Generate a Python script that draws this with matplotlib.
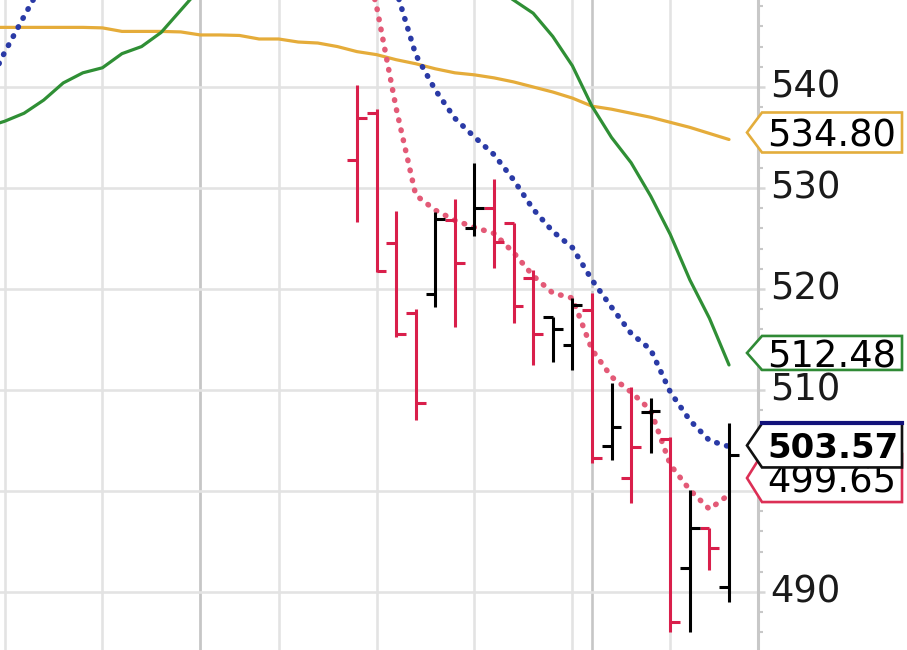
import numpy as np
import matplotlib
matplotlib.use("Agg")
import matplotlib.pyplot as plt
import matplotlib.transforms as mtransforms
from matplotlib.patches import Polygon
from matplotlib.lines import Line2D
from matplotlib.ticker import MultipleLocator, FixedLocator

# ---------------- data ----------------
bar_days = list(range(20))
opens = [532.8, 537.4, 524.6, 517.6, 519.5, 526.8, 526.0, 528.0, 526.5, 521.1,
         517.2, 514.5, 517.9, 504.5, 501.3, 507.8, 505.1, 492.4, 496.3, 490.5]
highs = [540.2, 537.8, 527.7, 518.0, 527.6, 528.9, 532.5, 530.9, 526.5, 521.9,
         517.2, 519.1, 519.6, 510.7, 510.3, 509.2, 505.3, 500.1, 496.3, 506.7]
lows = [526.6, 521.7, 515.2, 507.0, 518.2, 516.2, 525.2, 522.1, 516.6, 512.5,
        512.8, 512.0, 502.8, 503.1, 498.8, 503.8, 486.0, 486.0, 492.2, 489.0]
closes = [536.9, 521.8, 515.5, 508.7, 526.9, 522.6, 528.0, 524.7, 518.3, 515.5,
          516.0, 518.4, 503.3, 506.3, 504.4, 507.9, 487.0, 496.3, 494.4, 503.57]
prev_close = 538.0

ma_days = list(range(-19, 20))
sma_long = [545.9, 545.9, 545.9, 545.9, 545.9, 545.9, 545.85, 545.5, 545.5, 545.5,
            545.45, 545.15, 545.15, 545.1, 544.75, 544.75, 544.45, 544.35, 544.0, 543.5,
            543.2, 542.7, 542.3, 541.8, 541.4, 541.2, 540.9, 540.5, 540.0, 539.5,
            538.9, 538.1, 537.8, 537.4, 537.0, 536.5, 536.0, 535.4, 534.80]
sma_mid = [536.0, 536.6, 537.4, 538.7, 540.4, 541.4, 541.9, 543.3, 544.0, 545.4,
           547.6, 549.8, 551.5, 553.0, 554.3, 555.2, 555.8, 556.0, 556.0, 555.7,
           555.2, 554.5, 553.7, 552.9, 552.0, 551.0, 549.9, 548.6, 547.3, 545.0,
           542.1, 538.1, 535.0, 532.5, 529.2, 525.4, 520.9, 517.1, 512.48]
ema_slow = [539.5, 543.4, 547.0, 550.5, 553.5, 556.0, 558.0, 559.5, 560.5, 561.2,
            561.6, 561.8, 561.8, 561.5, 561.0, 560.2, 559.0, 557.6, 556.0, 554.2,
            552.0, 549.6, 543.2, 539.7, 536.9, 535.05, 533.3, 530.8, 527.9, 525.7,
            524.1, 520.9, 518.2, 515.6, 514.0, 509.8, 507.0, 505.0, 504.4]
ema_fast = [549.0, 549.5, 551.0, 553.0, 555.0, 557.0, 559.0, 560.5, 561.5, 562.0,
            562.5, 563.0, 563.0, 562.5, 562.0, 561.0, 560.0, 558.5, 557.0, 555.5,
            548.0, 537.9, 529.3, 527.8, 526.8, 526.1, 525.5, 523.6, 521.3, 519.6,
            519.1, 514.0, 511.3, 509.8, 508.0, 502.6, 500.1, 498.2, 499.65]

week_lines = [-18, -13, -8, -4, 1, 6, 11, 16]
month_lines = [-8, 12]
price_ticks = [490, 500, 510, 520, 530, 540, 550]

label_values = [534.80, 512.48, 499.65, 503.57]
label_texts = ["534.80", "512.48", "499.65", "503.57"]

# ---------------- styles ----------------
label_edges = ["#e3ad3c", "#2f8a35", "#dc2f55", "#111111"]
label_bold = [False, False, False, True]
label_dy = [7, 12, 16.5, 9.5]          # px upward shift of each tag
label_half_h = [20, 17, 24, 22]
RED = "#d91f4b"
FONT = "DejaVu Sans"

fig = plt.figure(figsize=(9.07, 6.5), dpi=100)
ax = fig.add_axes([0, 0, 758 / 907, 1])

for d in week_lines:
    ax.axvline(d, color="#e3e3e3", lw=1.9, zorder=0)
for d in month_lines:
    ax.axvline(d, color="#c6c6c6", lw=1.9, zorder=0)
for v in price_ticks:
    ax.axhline(v, color="#e3e3e3", lw=1.9, zorder=0)

for s in ["left", "top", "bottom"]:
    ax.spines[s].set_visible(False)
ax.spines["right"].set_color("#c8c8c8")
ax.spines["right"].set_linewidth(2.2)
ax.xaxis.set_major_locator(FixedLocator([]))
ax.yaxis.tick_right()
ax.yaxis.set_major_locator(FixedLocator(price_ticks))
ax.yaxis.set_minor_locator(MultipleLocator(2))
ax.tick_params(axis="y", which="major", length=5, width=1.8, color="#d6d6d6",
               labelright=False, labelleft=False)
ax.tick_params(axis="y", which="minor", length=3.6, width=1.5, color="#c8c8c8")

# tick labels (drawn manually so they sit slightly above their lines)
lab_tr = ax.get_yaxis_transform() + mtransforms.ScaledTranslation(12 / 100, 4 / 100, fig.dpi_scale_trans)
for v in price_ticks:
    ax.text(1, v, str(v), transform=lab_tr, ha="left", va="center_baseline",
            fontsize=26.6, family=FONT, color="#1a1a1a", clip_on=False, zorder=4)

# moving averages
ax.plot(ma_days, sma_long, color="#e5ac3a", lw=2.3, zorder=2, solid_capstyle="round")
ax.plot(ma_days, sma_mid, color="#2f8f35", lw=2.3, zorder=2, solid_capstyle="round")
ax.plot(ma_days, ema_slow, color="#2a3aa6", lw=4.0, ls=(0, (0.1, 1.75)),
        dash_capstyle="round", zorder=2)
ax.plot(ma_days, ema_fast, color="#e35a77", lw=4.0, ls=(0, (0.1, 1.75)),
        dash_capstyle="round", zorder=2)

# OHLC bars
x = np.array(bar_days, dtype=float)
pc = [prev_close] + closes[:-1]
colors = [RED if c < p else "black" for c, p in zip(closes, pc)]
ax.vlines(x, lows, highs, colors=colors, lw=2.2, zorder=3, capstyle="butt")
ax.hlines(opens, x - 0.5, x, colors=colors, lw=2.2, zorder=3, capstyle="butt")
ax.hlines(closes, x, x + 0.5, colors=colors, lw=2.2, zorder=3, capstyle="butt")

ax.set_xlim(-18.23, 20.48)
ax.set_ylim(484.26, 548.61)

# value tags on the right axis
px = mtransforms.Affine2D().scale(fig.dpi / 100.0)
for val, txt, ec, bold, dy, hh in zip(label_values, label_texts, label_edges,
                                        label_bold, label_dy, label_half_h):
    anchor = mtransforms.ScaledTranslation(1.0, val, ax.get_yaxis_transform())
    tr = px + anchor
    verts = [(-11, dy), (4, dy + hh), (144, dy + hh), (144, dy - hh), (4, dy - hh)]
    poly = Polygon(verts, closed=True, facecolor="white", edgecolor=ec,
                   lw=1.9, transform=tr, zorder=6 if bold else 5)
    fig.add_artist(poly)
    if bold:
        fig.add_artist(Line2D([4, 144], [dy + hh, dy + hh], color="#12127a",
                              lw=3.0, transform=tr, zorder=6))
    t = plt.Text(9, dy, txt, transform=tr, ha="left", va="center_baseline",
                 fontsize=24.5 if bold else 26.6,
                 fontweight="bold" if bold else "normal",
                 family=FONT, color="black", zorder=6 if bold else 5)
    fig.add_artist(t)

fig.savefig("out.png", dpi=100, facecolor="white")
